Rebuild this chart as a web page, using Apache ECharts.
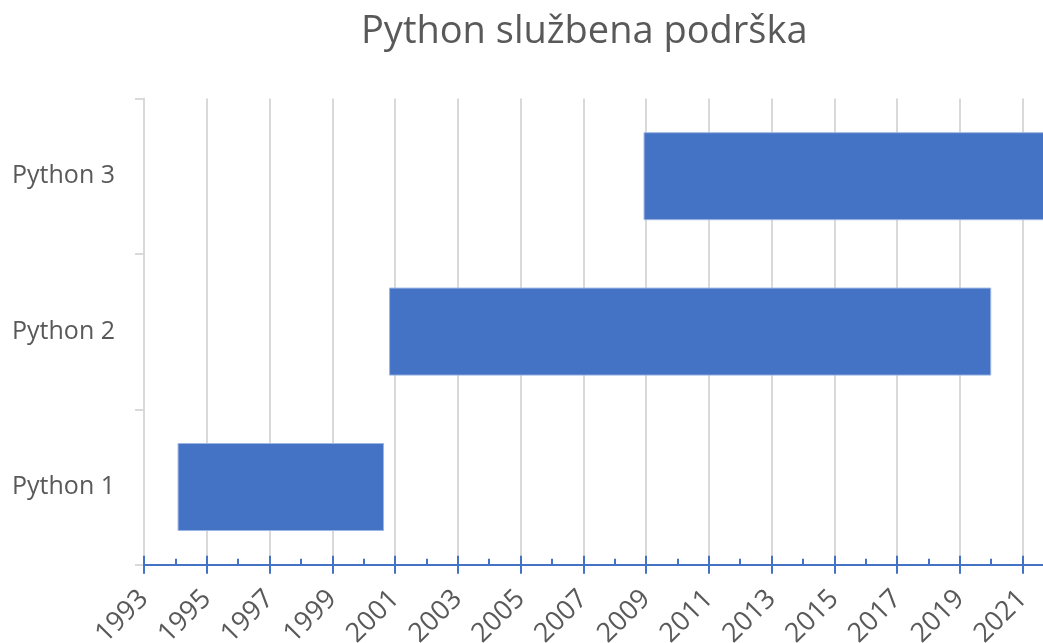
<!DOCTYPE html>
<html>
<head>
<meta charset="utf-8">
<script src="https://cdn.jsdelivr.net/npm/echarts@6/dist/echarts.min.js"></script>
<style>
  html, body { margin: 0; padding: 0; background: #fff; }
  #chart { width: 1043px; height: 643px; }
</style>
</head>
<body>
<div id="chart"></div>
<script>
// podaci
var versions = ['Python 1', 'Python 2', 'Python 3']
var startYears = [1994.07, 2000.81, 2008.92]
var endYears = [2000.65, 2020.0, 2023.0]
var axisStart = 1993
var axisEnd = 2022

// os počinje od 0 (1993), pa je interval od 2 poravnat
var offsets = startYears.map(function (s) { return s - axisStart })
var lengths = startYears.map(function (s, i) { return endYears[i] - s })

var chart = echarts.init(document.getElementById('chart'))
var font = '"Open Sans", "Noto Sans", sans-serif'
var blue = '#4472C4'

chart.setOption({
  backgroundColor: '#fff',
  animation: false,
  title: {
    text: 'Python službena podrška',
    left: 356,
    top: 8,
    textStyle: {
      color: '#595959',
      fontFamily: font,
      fontSize: 38,
      fontWeight: 'normal'
    }
  },
  grid: {
    left: 144,
    width: 910, // desni rub (2022) je izvan slike
    top: 98.5,
    bottom: 78.3,
    containLabel: false,
    outerBoundsMode: 'none'
  },
  xAxis: [
    {
      type: 'value',
      min: 0,
      max: axisEnd - axisStart,
      interval: 2,
      position: 'bottom',
      axisLine: { show: true, lineStyle: { color: blue, width: 2 } },
      axisTick: { show: true, inside: true, length: 9, lineStyle: { color: blue, width: 2 } },
      minorTick: { show: true, splitNumber: 2, length: 6, lineStyle: { color: blue, width: 2 } },
      splitLine: { show: true, lineStyle: { color: '#d9d9d9', width: 2 } },
      axisLabel: {
        rotate: 45,
        margin: 30,
        color: '#595959',
        fontFamily: font,
        fontSize: 27,
        showMaxLabel: false,
        formatter: function (v) {
          return Number.isInteger(v) ? String(v + axisStart) : ''
        }
      }
    },
    {
      // donji dio glavnih crtica
      type: 'value',
      min: 0,
      max: axisEnd - axisStart,
      interval: 2,
      position: 'bottom',
      axisLine: { show: false },
      axisTick: { show: true, inside: false, length: 9, lineStyle: { color: blue, width: 2 } },
      splitLine: { show: false },
      axisLabel: { show: false }
    }
  ],
  yAxis: {
    type: 'category',
    data: versions,
    axisLine: { show: true, lineStyle: { color: '#d9d9d9', width: 2 } },
    axisTick: { show: true, length: 9, lineStyle: { color: '#d9d9d9', width: 2 } },
    axisLabel: {
      margin: 29,
      color: '#595959',
      fontFamily: font,
      fontSize: 25
    }
  },
  series: [
    {
      name: 'početak',
      type: 'bar',
      stack: 'podrska',
      xAxisIndex: 0,
      itemStyle: { color: 'transparent' },
      emphasis: { disabled: true },
      data: offsets
    },
    {
      name: 'podrška',
      type: 'bar',
      stack: 'podrska',
      xAxisIndex: 0,
      barWidth: 88,
      clip: true,
      itemStyle: { color: blue, borderColor: '#9db5e3', borderWidth: 1 },
      data: lengths
    }
  ]
})
</script>
</body>
</html>
